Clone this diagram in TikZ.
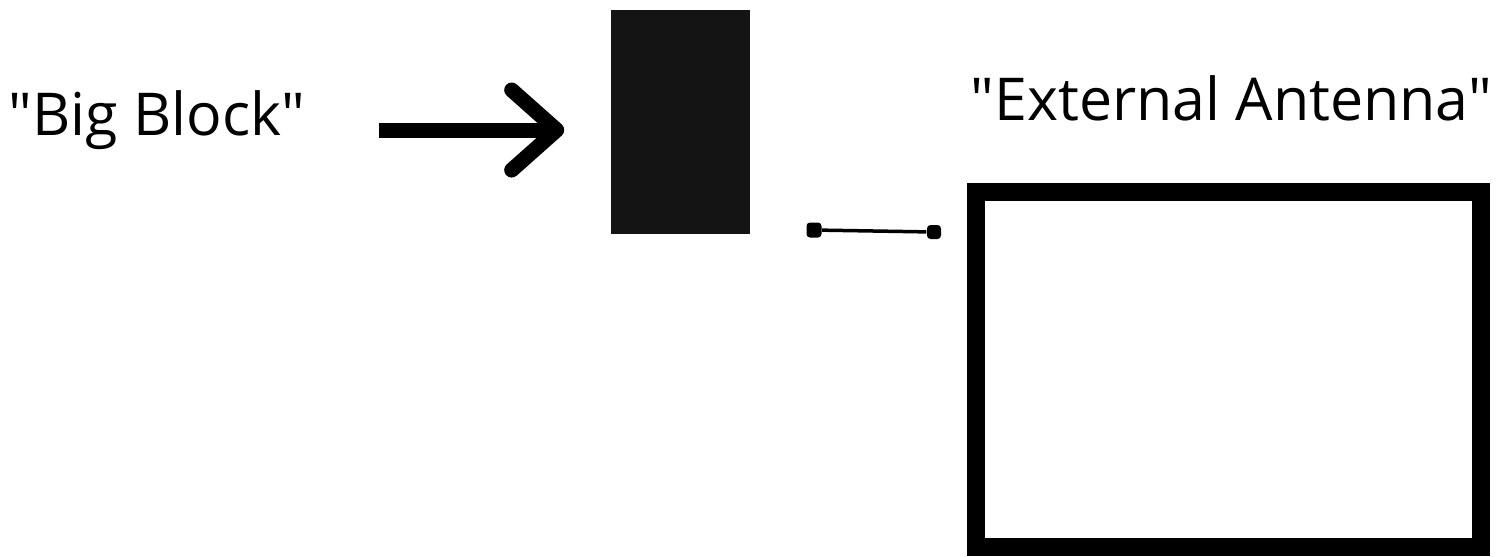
\documentclass[tikz,border=0pt]{standalone}
\usepackage{fontspec}
\setmainfont{Open Sans}
\usetikzlibrary{arrows.meta, positioning}

\begin{document}
\begin{tikzpicture}[x=0.01cm, y=-0.01cm,
    label/.style={inner sep=0pt, anchor=base west, font=\fontsize{16.8}{20}\selectfont},
    plug/.style={rectangle, fill=black, rounded corners=1pt, minimum size=0.15cm, inner sep=0pt}]
    \useasboundingbox (0,0) rectangle (1499,556);
    % Nodes
    \node [label] (biglabel) at (8,135) {\textquotedbl Big Block\textquotedbl};
    \node [rectangle, fill=black!92, minimum width=1.39cm, minimum height=2.24cm, inner sep=0pt] (block) at (680.5,122) {};
    \node [label] (antlabel) at (970,120) {\textquotedbl External Antenna\textquotedbl};
    \node [rectangle, draw, line width=0.18cm, minimum width=5.05cm, minimum height=3.55cm, inner sep=0pt] (antenna) at (1228.5,369.5) {};
    \node [plug] (plugL) at (814,230) {};
    \node [plug, minimum size=0.14cm] (plugR) at (934,232) {};

    % Edges
    \draw [line width=0.15cm, -{Straight Barb[length=0.45cm, width=0.8cm, line join=round, line cap=round]}, shorten <=0.73cm, shorten >=0.46cm] (biglabel.east |- 0,130) -- (block.west |- 0,130);
    \draw [line width=0.035cm] (plugL) -- (plugR);
\end{tikzpicture}
\end{document}
